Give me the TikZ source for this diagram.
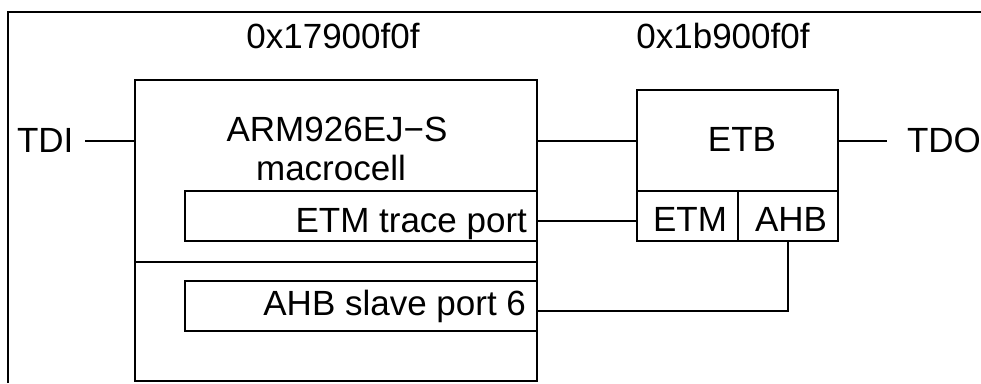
\documentclass[tikz,border=0pt]{standalone}
\usepackage{fontspec}
\setmainfont{Liberation Sans}
\begin{document}
\begin{tikzpicture}[x=1pt,y=-1pt, line width=1.1pt,
  box/.style={draw, rectangle, inner sep=0pt, outer sep=0pt},
  lbl/.style={inner sep=0pt, outer sep=0pt, font=\fontsize{35}{42}\selectfont}]
\useasboundingbox (0,0) rectangle (981,383);
% frame
\draw (8,383) -- (8,12) -- (981,12);
% boxes
\node[box, minimum width=402pt, minimum height=301pt] (main) at (336,230.5) {};
\node[box, minimum width=352pt, minimum height=50pt] (etmport) at (361,216) {};
\node[box, minimum width=352pt, minimum height=50pt] (ahbport) at (361,306) {};
\coordinate (divy) at (0,262);
\draw (main.west |- divy) -- (main.east |- divy);
\node[box, minimum width=201pt, minimum height=151pt] (etb) at (737.5,165.5) {};
\node[box, minimum width=101pt, minimum height=50pt] (etm) at (687.5,216) {};
\node[box, minimum width=100pt, minimum height=50pt] (ahb) at (788,216) {};
% labels
\node[lbl, anchor=base] (addr1) at (333,48) {0x17900f0f};
\node[lbl, anchor=base] (addr2) at (723,48) {0x1b900f0f};
\node[lbl, anchor=base west] (tdi) at (17,152) {TDI};
\node[lbl, anchor=base west] (tdo) at (907,152) {TDO};
\node[lbl, anchor=base] (arm) at (337,141) {ARM926EJ−S};
\node[lbl, anchor=base] (macro) at (331,180) {macrocell};
\node[lbl, anchor=base east] (etmportlbl) at (527,232) {ETM trace port};
\node[lbl, anchor=base east] (ahbportlbl) at (526,315) {AHB slave port 6};
\node[lbl, anchor=base] (etblbl) at (742,151) {ETB};
\node[lbl, anchor=base] (etmlbl) at (690,231) {ETM};
\node[lbl, anchor=base] (ahblbl) at (791,231) {AHB};
% connectors
\coordinate (busy) at (0,141);
\coordinate (tdiend) at (85,141);
\coordinate (tdoend) at (887,141);
\draw (tdiend) -- (tdiend -| main.west);
\draw (main.east |- busy) -- (etb.west |- busy);
\draw (etb.east |- busy) -- (tdoend);
\draw ([yshift=-5pt]etmport.east) -- ([yshift=-5pt]etmport.east -| etm.west);
\draw ([yshift=-5pt]ahbport.east) -| (ahb.south);
\end{tikzpicture}
\end{document}
